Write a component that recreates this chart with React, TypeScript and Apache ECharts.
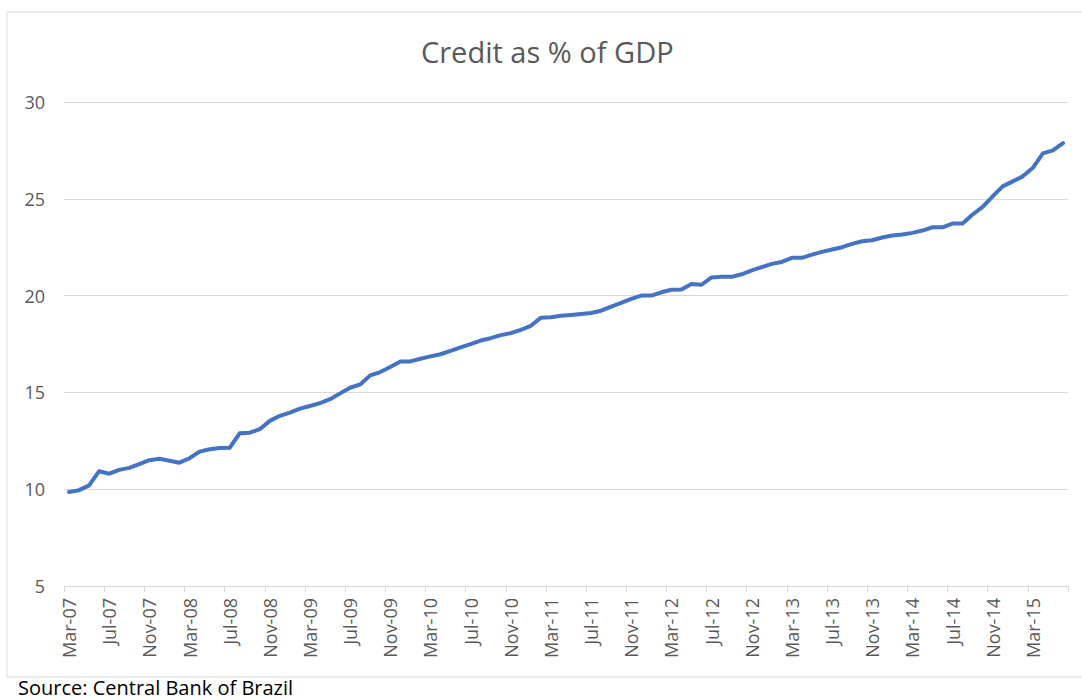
import React, { useEffect, useRef } from "react";
import * as echarts from "echarts";

const categories: string[] = [
  "Mar-07","Apr-07","May-07","Jun-07","Jul-07","Aug-07","Sep-07","Oct-07","Nov-07","Dec-07",
  "Jan-08","Feb-08","Mar-08","Apr-08","May-08","Jun-08","Jul-08","Aug-08","Sep-08","Oct-08","Nov-08","Dec-08",
  "Jan-09","Feb-09","Mar-09","Apr-09","May-09","Jun-09","Jul-09","Aug-09","Sep-09","Oct-09","Nov-09","Dec-09",
  "Jan-10","Feb-10","Mar-10","Apr-10","May-10","Jun-10","Jul-10","Aug-10","Sep-10","Oct-10","Nov-10","Dec-10",
  "Jan-11","Feb-11","Mar-11","Apr-11","May-11","Jun-11","Jul-11","Aug-11","Sep-11","Oct-11","Nov-11","Dec-11",
  "Jan-12","Feb-12","Mar-12","Apr-12","May-12","Jun-12","Jul-12","Aug-12","Sep-12","Oct-12","Nov-12","Dec-12",
  "Jan-13","Feb-13","Mar-13","Apr-13","May-13","Jun-13","Jul-13","Aug-13","Sep-13","Oct-13","Nov-13","Dec-13",
  "Jan-14","Feb-14","Mar-14","Apr-14","May-14","Jun-14","Jul-14","Aug-14","Sep-14","Oct-14","Nov-14","Dec-14",
  "Jan-15","Feb-15","Mar-15","Apr-15","May-15","Jun-15",
];

const creditPctGdp: number[] = [
  9.86, 9.95, 10.2, 10.93, 10.8, 11.0, 11.1, 11.3, 11.5, 11.57,
  11.47, 11.37, 11.6, 11.94, 12.06, 12.13, 12.14, 12.89, 12.92, 13.1,
  13.53, 13.79, 13.96, 14.16, 14.3, 14.45, 14.65, 14.95, 15.24, 15.41,
  15.88, 16.05, 16.31, 16.6, 16.6, 16.74, 16.86, 16.97, 17.14, 17.32,
  17.49, 17.68, 17.8, 17.96, 18.06, 18.23, 18.44, 18.86, 18.88, 18.96,
  19.0, 19.05, 19.1, 19.22, 19.43, 19.62, 19.83, 20.0, 20.0, 20.17,
  20.3, 20.31, 20.6, 20.56, 20.94, 20.97, 20.97, 21.1, 21.3, 21.47,
  21.64, 21.74, 21.95, 21.95, 22.12, 22.26, 22.38, 22.5, 22.67, 22.81,
  22.86, 23.0, 23.1, 23.16, 23.24, 23.36, 23.53, 23.53, 23.72, 23.72,
  24.19, 24.58, 25.13, 25.64, 25.9, 26.16, 26.6, 27.35, 27.5, 27.88,
];

const yMin = 5;
const yMax = 30;
const yStep = 5;

const titleText = "Credit as % of GDP";
const sourceText = "Source: Central Bank of Brazil";

export default function App() {
  const ref = useRef<HTMLDivElement>(null);
  useEffect(() => {
    if (!ref.current) return;
    const chart = echarts.init(ref.current, undefined, { renderer: "svg" });
    const font = "'Open Sans', 'Liberation Sans', sans-serif";
    chart.setOption({
      animation: false,
      backgroundColor: "#ffffff",
      title: {
        text: titleText,
        left: 421,
        top: 37,
        padding: 0,
        textStyle: { fontFamily: font, fontSize: 29, fontWeight: "normal", color: "#595959" },
      },
      grid: { left: 64, right: 14, top: 102, bottom: 114, containLabel: false },
      xAxis: {
        type: "category",
        data: categories,
        boundaryGap: true,
        axisLine: { show: true, lineStyle: { color: "#d9d9d9", width: 1 } },
        axisTick: { show: true, interval: 3, length: 6, lineStyle: { color: "#d9d9d9" } },
        axisLabel: {
          interval: 3,
          rotate: 90,
          margin: 12,
          fontFamily: font,
          fontSize: 18,
          color: "#595959",
        },
        splitLine: { show: false },
      },
      yAxis: {
        type: "value",
        min: yMin,
        max: yMax,
        interval: yStep,
        axisLine: { show: false },
        axisTick: { show: false },
        axisLabel: { margin: 19, fontFamily: font, fontSize: 18, color: "#595959" },
        splitLine: { show: true, lineStyle: { color: "#d9d9d9", width: 1 } },
      },
      series: [
        {
          type: "line",
          data: creditPctGdp,
          showSymbol: false,
          symbol: "none",
          smooth: false,
          lineStyle: { color: "#4472C4", width: 4, cap: "round", join: "round" },
        },
      ],
      graphic: [
        {
          type: "rect",
          shape: { x: 7, y: 12, width: 1100, height: 665 },
          style: { fill: "none", stroke: "#d9d9d9", lineWidth: 1 },
          silent: true,
          z: -1,
        },
        {
          type: "text",
          x: 18,
          y: 677,
          style: {
            text: sourceText,
            fontFamily: font,
            fontSize: 20,
            lineHeight: 20,
            fill: "#000000",
            textVerticalAlign: "top",
          },
        },
      ],
    });
    return () => chart.dispose();
  }, []);
  return (
    <div
      ref={ref}
      style={{ position: "absolute", left: 0, top: 0, width: 1082, height: 700 }}
    />
  );
}
